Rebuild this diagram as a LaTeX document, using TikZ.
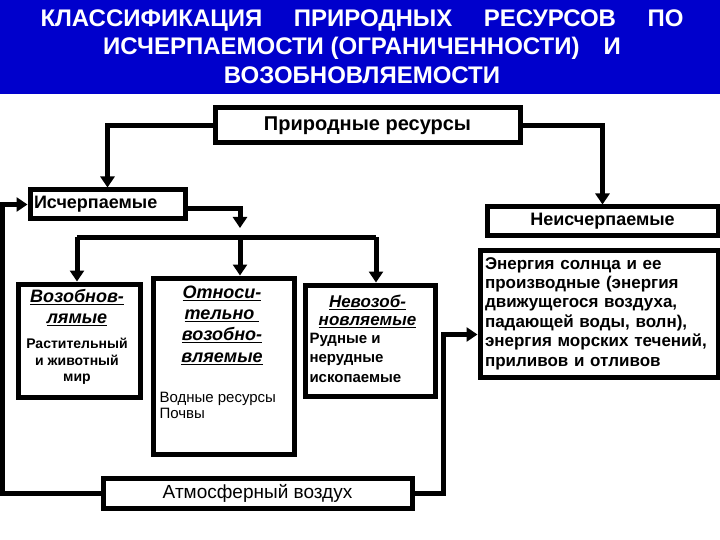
\documentclass[tikz,border=0pt]{standalone}
\usepackage{fontspec}
\setmainfont{Liberation Sans}
\usetikzlibrary{arrows.meta}
\usetikzlibrary{positioning}
\definecolor{slideblue}{RGB}{0,0,204}

\newcommand{\fsz}[2]{\fontsize{#1}{#2}\selectfont}

\begin{document}
\begin{tikzpicture}[x=1pt, y=-1pt, line width=5pt,
    main/.style = {draw, rectangle, fill=white, inner sep=0pt, anchor=north west},
    txt/.style = {inner sep=0pt, align=center},
    arr/.style = {-{Triangle[length=11pt,width=14pt]}}]
            \useasboundingbox (0,0) rectangle (720,540);
            % title
            \fill[slideblue] (0,0) rectangle (720,94);
            \node[txt, text=white, font={\bfseries\fsz{24}{28.5}}] (t) at (362,46.5)
                {\makebox[643pt][s]{КЛАССИФИКАЦИЯ\hfill ПРИРОДНЫХ\hfill РЕСУРСОВ\hfill ПО}\\
                 ИСЧЕРПАЕМОСТИ (ОГРАНИЧЕННОСТИ)\quad И\\ВОЗОБНОВЛЯЕМОСТИ};
            % boxes
            \node[main, minimum width=305pt, minimum height=35pt, font={\bfseries\fsz{20}{23}}] (1) at (212.5,105.5) {Природные ресурсы};
            \node[main, text width=147pt, inner xsep=4pt, minimum height=29pt, align=left, font={\bfseries\fsz{18}{21}}] (2) at (27.5,187.5) {Исчерпаемые};
            \node[main, minimum width=231pt, minimum height=28pt, font={\bfseries\fsz{18}{21}}] (3) at (484.5,204.5) {Неисчерпаемые};
            \node[main, minimum width=122pt, minimum height=113pt] (4) at (15.5,281.5) {};
            \node[main, minimum width=141pt, minimum height=176pt] (5) at (150.5,275.5) {};
            \node[main, minimum width=130pt, minimum height=111pt] (6) at (302.5,282.5) {};
            \node[main, text width=228pt, inner xsep=5pt, minimum height=127pt, align=left, font={\bfseries\fsz{17}{19.4}}] (7) at (477.5,247.5)
                {Энергия солнца и ее\\производные (энергия\\движущегося воздуха,\\падающей воды, волн),\\энергия морских течений,\\приливов и отливов};
            \node[main, minimum width=309pt, minimum height=30pt, font={\fsz{19}{22}}] (8) at (100.5,475.5) {Атмосферный воздух};
            % box texts
            \node[txt, font={\bfseries\itshape\fsz{18}{21.5}}] (4a) at (77,307.5) {\underline{Возобнов-}\\\underline{лямые}};
            \node[txt, font={\bfseries\fsz{14}{16.5}}] (4b) at (77,361.5) {Растительный\\и животный\\мир};
            \node[txt, font={\bfseries\itshape\fsz{18}{21.3}}] (5a) at (222,325) {\underline{Относи-}\\\underline{тельно\ }\\\underline{возобно-}\\\underline{вляемые}};
            \node[txt, anchor=west, align=left, font={\fsz{15}{16}}] (5b) at (157,405.5) {Водные ресурсы\\Почвы};
            \node[txt, font={\bfseries\itshape\fsz{17}{17.5}}] (6a) at (367.5,311.5) {\underline{Невозоб-}\\\underline{новляемые}};
            \node[txt, anchor=west, align=left, font={\bfseries\fsz{15}{19.5}}] (6b) at (307,357.5) {Рудные и\\нерудные\\ископаемые};
            % connectors
            \coordinate (l) at (77,237);
            \coordinate (m) at (240,237);
            \coordinate (r) at (376,237);
            \draw[arr] (1.west) -| (2.north);
            \draw[arr] (1.east) -| (3.north);
            \draw[arr] ([yshift=-4pt]2.east) -| ([yshift=9pt]m);
            \draw (l) -- (r);
            \draw[arr] (l) -- (l |- 4.north);
            \draw[arr] (m) -- (m |- 5.north);
            \draw[arr] (r) -- (r |- 6.north);
            \draw[arr] (8.west) -| ([xshift=-25pt]2.west) -- (2.west);
            \draw[arr] (8.east) -| ([xshift=-34.5pt,yshift=-21pt]7.west) -- ([yshift=-21pt]7.west);
        \end{tikzpicture}
\end{document}
